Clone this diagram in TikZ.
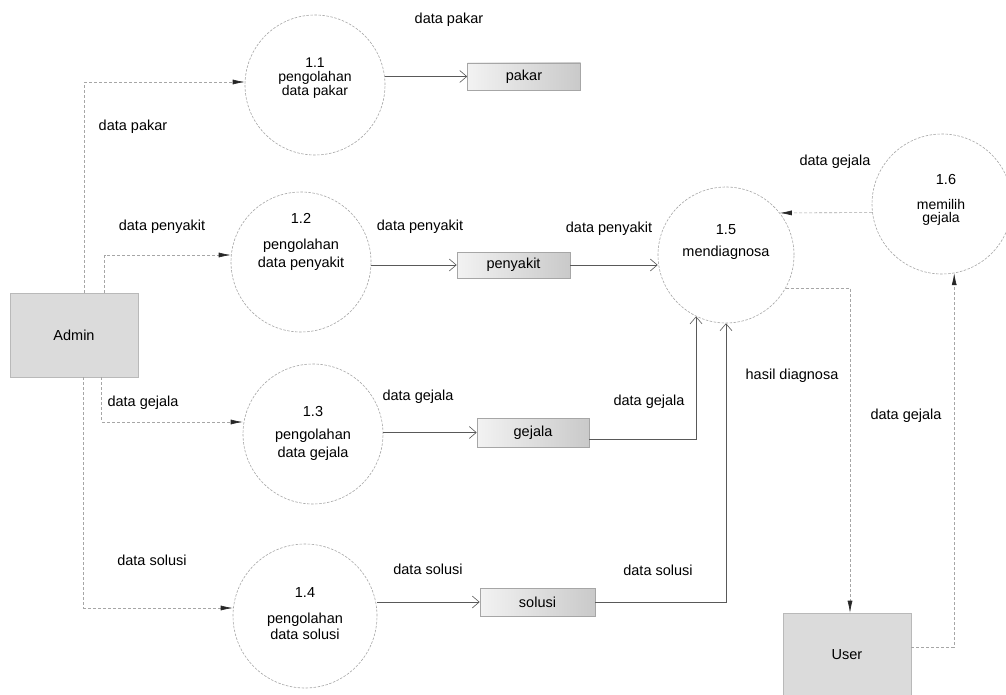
\documentclass[tikz,border=0pt]{standalone}
\usepackage{fontspec}
\setmainfont{Liberation Sans}
\usetikzlibrary{arrows.meta,calc}
\begin{document}
\begin{tikzpicture}[x=1pt,y=-1pt,
  proc/.style={circle,draw=gray!70,dash pattern=on 2.5pt off 1.5pt,line width=0.6pt,fill=white,minimum size=140pt,inner sep=0pt},
  ent/.style={rectangle,draw=gray!55,line width=0.6pt,fill=gray!28,minimum width=128pt,minimum height=84pt,inner sep=0pt,font=\fontsize{14.5}{17}\selectfont,text=black},
  store/.style={rectangle,draw=gray!70,line width=0.6pt,left color=gray!10,right color=gray!42,minimum width=113pt,minimum height=27pt,inner sep=0pt,font=\fontsize{14.5}{17}\selectfont,text=black},
  lbl/.style={font=\fontsize{14.5}{17}\selectfont,text=black,inner sep=0pt},
  ptxt/.style={align=center,font=\fontsize{14.5}{18}\selectfont,text=black,inner sep=0pt},
  dflow/.style={draw=gray!70,line width=0.6pt,dash pattern=on 3pt off 2pt,-{Latex[length=12pt,width=5pt,color=black!85]}},
  sflow/.style={draw=black!65,line width=0.6pt,-{Straight Barb[length=7pt,width=12pt]}},
]
\fill[white] (0,0) rectangle (1006,695);
\useasboundingbox (0,0) rectangle (1006,695);

% processes
\node[proc] (p11) at (315,85) {};
\node[proc] (p12) at (301,262) {};
\node[proc] (p13) at (313,434) {};
\node[proc,minimum size=144pt] (p14) at (305,616) {};
\node[proc,minimum size=136pt] (p15) at (726,255) {};
\node[proc] (p16) at (942,204) {};

\node[ptxt,font=\fontsize{14}{14}\selectfont] (n11) at (315,63) {1.1};
\node[ptxt,font=\fontsize{14}{13}\selectfont] (t11) at (315,85) {pengolahan\\data pakar};
\node[ptxt] (n12) at (301,218) {1.2};
\node[ptxt] (t12) at (301,255) {pengolahan\\data penyakit};
\node[ptxt] (n13) at (313,412) {1.3};
\node[ptxt] (t13) at (313,445) {pengolahan\\data gejala};
\node[ptxt] (n14) at (305,593) {1.4};
\node[ptxt,font=\fontsize{14.5}{16}\selectfont] (t14) at (305,626) {pengolahan\\data solusi};
\node[ptxt] (n15) at (726,230) {1.5};
\node[ptxt] (t15) at (726,253) {mendiagnosa};
\node[ptxt] (n16) at (946,180) {1.6};
\node[ptxt,font=\fontsize{14}{13}\selectfont] (t16) at (941,212) {memilih\\gejala};

% entities
\node[ent] (admin) at (74,335) {Admin};
\node[ent] (user) at (847,655) {User};

% stores
\node[store] (pakar) at (524,76.5) {pakar};
\node[store,minimum height=26pt] (penyakit) at (513.5,265) {penyakit};
\node[store,minimum width=112pt,minimum height=29pt] (gejala) at (533,432.5) {gejala};
\node[store,minimum width=115pt,minimum height=28pt] (solusi) at (537.5,602) {solusi};

% admin flows
\draw[dflow] ($(admin.north west)+(75,0)$) |- ([yshift=3pt]p11.west);
\draw[dflow] ($(admin.north west)+(95,0)$) |- ([yshift=7pt]p12.west);
\draw[dflow] ($(admin.south west)+(92,0)$) |- ([yshift=12pt]p13.west);
\draw[dflow] ($(admin.south west)+(74,0)$) |- ([yshift=8pt]p14.west);

% process to store
\draw[sflow] (p11.east |- pakar.west) -- (pakar.west);
\draw[sflow] (p12.east |- penyakit.west) -- (penyakit.west);
\draw[sflow] (p13.east |- gejala.west) -- (gejala.west);
\draw[sflow] (p14.east |- solusi.west) -- (solusi.west);

% store to 1.5
\draw[sflow] (penyakit.east) -- (penyakit.east -| p15.west);
\draw[sflow] ([yshift=-7pt]gejala.east) -| (p15.244);
\draw[sflow] (solusi.east) -| (p15.south);

% 1.5 / 1.6 / user
\draw[dflow] (p16.187) -- (p15.38);
\draw[dflow] (p15.-29) -| ([xshift=3pt]user.north);
\draw[dflow] ([yshift=8pt]user.east) -| (p16.-80);

% labels
\node[lbl] (l1) at (449,20) {data pakar};
\node[lbl] (l2) at (133,127) {data pakar};
\node[lbl] (l3) at (162,227) {data penyakit};
\node[lbl] (l4) at (420,227) {data penyakit};
\node[lbl] (l5) at (143,403) {data gejala};
\node[lbl] (l6) at (418,397) {data gejala};
\node[lbl] (l7) at (152,560) {data solusi};
\node[lbl] (l8) at (428,569) {data solusi};
\node[lbl] (l9) at (609,229) {data penyakit};
\node[lbl] (l10) at (835,162) {data gejala};
\node[lbl] (l11) at (792,376) {hasil diagnosa};
\node[lbl] (l12) at (649,402) {data gejala};
\node[lbl] (l13) at (906,416) {data gejala};
\node[lbl] (l14) at (658,570) {data solusi};
\end{tikzpicture}
\end{document}
